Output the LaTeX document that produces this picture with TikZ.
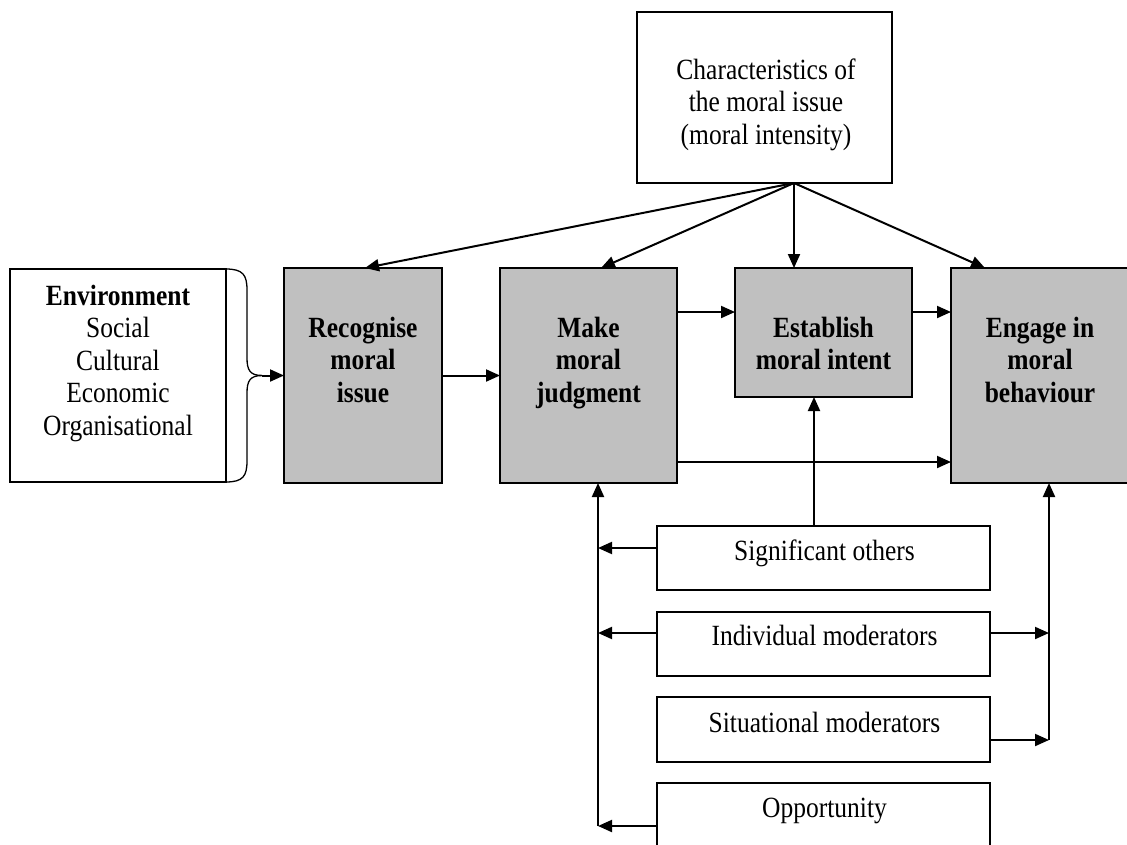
\documentclass[tikz,border=0pt]{standalone}
\usepackage{fontspec}
\setmainfont{Liberation Serif}
\usetikzlibrary{arrows.meta}
\definecolor{stagegray}{HTML}{C0C0C0}
% tall glyphs: text set slightly stretched upwards
\newcommand\tall[1]{\scalebox{1}[1.15]{#1}}
% stacked, centred lines whose baseline is the first line's
\newcommand\linesof[1]{\tall{\begin{tabular}[t]{@{}c@{}}#1\end{tabular}}}
\begin{document}
\begin{tikzpicture}[x=1pt,y=-1pt,
  every node/.style={font=\fontsize{25.5}{28.26}\selectfont},
  box/.style={draw=black, line width=1.3pt, inner sep=0pt, outer sep=0pt, rectangle},
  stage/.style={box, fill=stagegray},
  lbl/.style={anchor=base, inner sep=0pt, outer sep=0pt},
  arr/.style={line width=2pt, -{Triangle[length=14pt,width=12pt]}},
  brace/.style={line width=1.3pt}]
\useasboundingbox (0,0) rectangle (1127,844);
\clip (0,0) rectangle (1127,844);

% boxes
\node[box, minimum width=216pt, minimum height=213pt] (env) at (118,375.5) {};
\node[box, minimum width=255pt, minimum height=171pt] (chr) at (764.5,97.5) {};
\node[stage, minimum width=158pt, minimum height=215pt] (rec) at (363,375.5) {};
\node[stage, minimum width=177pt, minimum height=215pt] (mak) at (588.5,375.5) {};
\node[stage, minimum width=177pt, minimum height=129pt] (est) at (823.5,332.5) {};
\node[stage, minimum width=178pt, minimum height=215pt] (eng) at (1040,375.5) {};
\node[box, minimum width=333pt, minimum height=64pt] (sig) at (823.5,558) {};
\node[box, minimum width=333pt, minimum height=64pt] (ind) at (823.5,644) {};
\node[box, minimum width=333pt, minimum height=65pt] (sit) at (823.5,729.5) {};
\node[box, minimum width=333pt, minimum height=64pt] (opp) at (823.5,815) {};

% texts
\node[lbl] (env-t) at (118,305) {\linesof{\textbf{Environment}\\Social\\Cultural\\Economic\\Organisational}};
\node[lbl] (chr-t) at (766,79) {\linesof{Characteristics of\\the moral issue\\(moral intensity)}};
\node[lbl] (rec-t) at (363,337) {\linesof{\textbf{Recognise}\\\textbf{moral}\\\textbf{issue}}};
\node[lbl] (mak-t) at (588.5,337) {\linesof{\textbf{Make}\\\textbf{moral}\\\textbf{judgment}}};
\node[lbl] (est-t) at (823.5,337) {\linesof{\textbf{Establish}\\\textbf{moral intent}}};
\node[lbl] (eng-t) at (1040,337) {\linesof{\textbf{Engage in}\\\textbf{moral}\\\textbf{behaviour}}};
\node[lbl] (sig-t) at (824.5,560) {\tall{Significant others}};
\node[lbl] (ind-t) at (824.5,645) {\tall{Individual moderators}};
\node[lbl] (sit-t) at (824.5,732) {\tall{Situational moderators}};
\node[lbl] (opp-t) at (824.5,817) {\tall{Opportunity}};

% brace gathering the environment factors
\coordinate (bp) at (262,375.5);
\draw[brace] (env.north east) .. controls (243,269) and (247,275) .. (247,290)
  -- (247,358) .. controls (247,370) and (250,375.5) .. (bp);
\draw[brace] (env.south east) .. controls (243,482) and (247,476) .. (247,461)
  -- (247,393) .. controls (247,381) and (250,375.5) .. (bp);
\draw[arr] (bp) -- (rec.west);

% moral intensity feeds every stage
\coordinate (tip) at (794,183);
\draw[arr] (tip) -- (rec.north -| 365,0);
\draw[arr] (tip) -- (mak.north -| 601,0);
\draw[arr] (tip) -- (est.north -| tip);
\draw[arr] (tip) -- (eng.north -| 985,0);

% stage sequence
\draw[arr] (rec.east) -- (mak.west);
\draw[arr] (mak.east |- 0,312) -- (est.west |- 0,312);
\draw[arr] (est.east |- 0,312) -- (eng.west |- 0,312);
\draw[arr] (mak.east |- 0,462) -- (eng.west |- 0,462);

% significant others to intent
\draw[arr] (sig.north -| 814,0) -- (est.south -| 814,0);

% moderators to judgment
\coordinate (busL) at (598,826);
\draw[arr] (busL) -- (mak.south -| busL);
\draw[arr] (sig.west |- 0,548) -- (busL |- 0,548);
\draw[arr] (ind.west |- 0,633) -- (busL |- 0,633);
\draw[arr] (opp.west |- busL) -- (busL);

% moderators to behaviour
\coordinate (busR) at (1049,740);
\draw[arr] (busR) -- (eng.south -| busR);
\draw[arr] (ind.east |- 0,633) -- (busR |- 0,633);
\draw[arr] (sit.east |- busR) -- (busR);
\end{tikzpicture}
\end{document}
